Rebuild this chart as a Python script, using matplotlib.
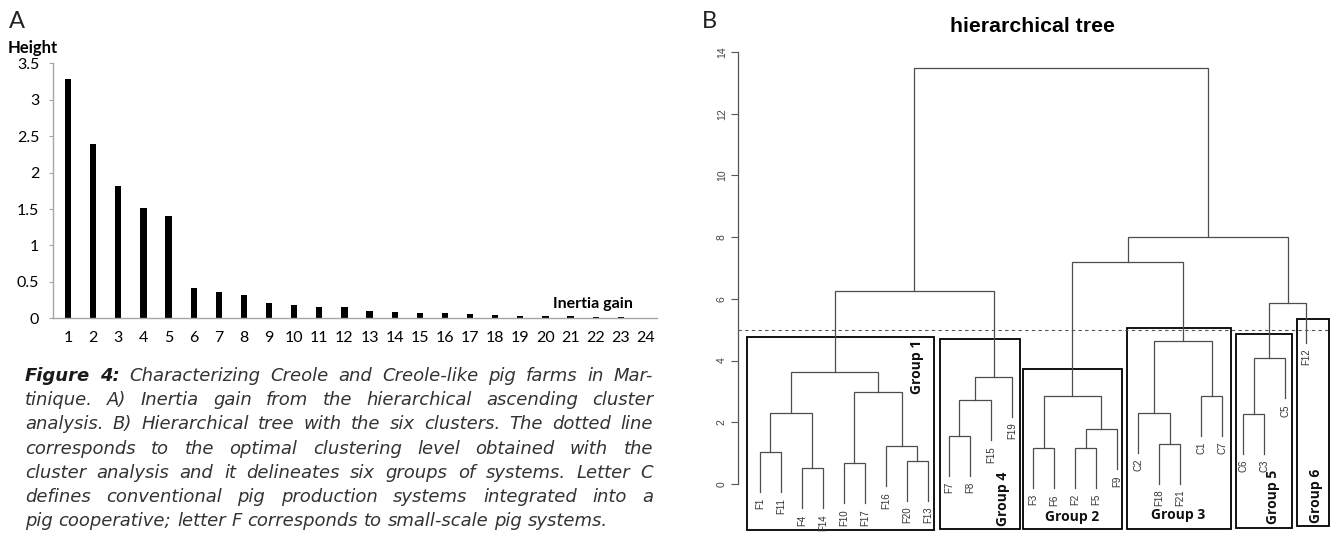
import matplotlib
matplotlib.use('Agg')
import matplotlib.pyplot as plt
from matplotlib.patches import Rectangle
from matplotlib.transforms import IdentityTransform

W, H = 1336, 544

# panel A : inertia gain
ranks = list(range(1, 25))
inertia_gain = [3.28, 2.39, 1.81, 1.52, 1.40, 0.41, 0.36, 0.32, 0.21, 0.18, 0.16, 0.15,
                0.10, 0.087, 0.078, 0.073, 0.055, 0.05, 0.037, 0.037, 0.027, 0.018, 0.014, 0.0]
yticks_a = [0, 0.5, 1, 1.5, 2, 2.5, 3, 3.5]
ytick_labels_a = ['0', '0.5', '1', '1.5', '2', '2.5', '3', '3.5']

# panel B : hierarchical tree (leaf order as drawn)
leaf_labels = ['F1', 'F11', 'F4', 'F14', 'F10', 'F17', 'F16', 'F20', 'F13',
               'F7', 'F8', 'F15', 'F19',
               'F3', 'F6', 'F2', 'F5', 'F9',
               'C2', 'F18', 'F21', 'C1', 'C7',
               'C6', 'C3', 'C5', 'F12']
# strings are leaves, ints point to an earlier merge
merge_pairs = [('F4', 'F14'), ('F10', 'F17'), ('F20', 'F13'), ('F1', 'F11'),
               ('F3', 'F6'), ('F2', 'F5'), ('F16', 2), ('F18', 'F21'),
               ('F7', 'F8'), (5, 'F9'), ('C6', 'C3'), (3, 0), ('C2', 7),
               (8, 'F15'), (4, 9), ('C1', 'C7'), (1, 6), (13, 'F19'),
               (11, 16), (10, 'C5'), (12, 15), (19, 'F12'), (18, 17),
               (14, 20), (23, 21), (22, 24)]
merge_heights = [0.51, 0.67, 0.76, 1.03, 1.16, 1.16, 1.23, 1.31, 1.55, 1.77,
                 2.27, 2.31, 2.31, 2.72, 2.86, 2.86, 2.97, 3.48, 3.63, 4.07,
                 4.64, 5.88, 6.25, 7.20, 8.00, 13.47]
cut_height = 5
yticks_b = [0, 2, 4, 6, 8, 10, 12, 14]

group_names = ['Group 1', 'Group 4', 'Group 2', 'Group 3', 'Group 5', 'Group 6']

caption_lines = [
    "Figure 4: Characterizing Creole and Creole-like pig farms in Mar-",
    "tinique. A) Inertia gain from the hierarchical ascending cluster",
    "analysis. B) Hierarchical tree with the six clusters. The dotted line",
    "corresponds to the optimal clustering level obtained with the",
    "cluster analysis and it delineates six groups of systems. Letter C",
    "defines conventional pig production systems integrated into a",
    "pig cooperative; letter F corresponds to small-scale pig systems.",
]


def fx(x):
    return x / W


def fy(y):
    return 1 - y / H


fig = plt.figure(figsize=(W / 100, H / 100), dpi=100)

# ---------------- panel A ----------------
axa = fig.add_axes([fx(53), fy(318.3), (657 - 53) / W, (318.3 - 63.3) / H])
axa.bar(ranks, inertia_gain, width=0.25, color='black')
axa.set_xlim(0.403, 24.44)
axa.set_ylim(0, 3.5)
axa.set_yticks(yticks_a)
axa.set_yticklabels(ytick_labels_a)
axa.set_xticks(ranks)
axa.set_xticklabels([str(r) for r in ranks])
for s in ['top', 'right']:
    axa.spines[s].set_visible(False)
for s in ['left', 'bottom']:
    axa.spines[s].set_color('#a6a6a6')
    axa.spines[s].set_linewidth(1)
axa.tick_params(axis='y', length=3, color='#a6a6a6', pad=7)
axa.tick_params(axis='x', length=0, pad=9)
for lab in axa.get_xticklabels() + axa.get_yticklabels():
    lab.set_family('Lato')
    lab.set_fontsize(11.5)

fig.text(fx(8), fy(53), 'Height', family='Lato', weight='bold', fontsize=12,
         ha='left', va='baseline')
fig.text(fx(633), fy(308), 'Inertia gain', family='Lato', weight='bold', fontsize=11.5,
         ha='right', va='baseline')
fig.text(fx(9), fy(28), 'A', family='Lato', fontsize=17, color='#222222',
         ha='left', va='baseline')
fig.text(fx(702), fy(28), 'B', family='Lato', fontsize=17, color='#222222',
         ha='left', va='baseline')

# ---------------- panel B ----------------
x0, x1 = -0.04, len(leaf_labels) + 1.04
px_per_h = 30.86
top_px, bot_px = 40, 540
axb = fig.add_axes([fx(738), fy(bot_px), (1328 - 738) / W, (bot_px - top_px) / H])
axb.set_xlim(x0, x1)
axb.set_ylim((484 - bot_px) / px_per_h, (484 - top_px) / px_per_h)

hang = 0.1 * (max(merge_heights) - min(merge_heights))
line_col = '#4d4d4d'
node_x = []


def child_pos(c, h):
    if isinstance(c, str):
        return leaf_labels.index(c) + 1, h - hang
    return node_x[c], merge_heights[c]


for (a, b), h in zip(merge_pairs, merge_heights):
    ax_, ay_ = child_pos(a, h)
    bx_, by_ = child_pos(b, h)
    axb.plot([ax_, ax_, bx_, bx_], [ay_, h, h, by_], color=line_col, lw=0.9,
             solid_joinstyle='miter')
    node_x.append((ax_ + bx_) / 2)
    for c, cx, cy in [(a, ax_, ay_), (b, bx_, by_)]:
        if isinstance(c, str):
            axb.annotate(c, (cx, cy), xytext=(0, -6), textcoords='offset pixels',
                         rotation=90, ha='center', va='top', fontsize=7,
                         family='Liberation Sans', color='#333333')

axb.axhline(cut_height, color='#555555', lw=0.8, ls=(0, (3, 3)))

for s in ['top', 'right', 'bottom']:
    axb.spines[s].set_visible(False)
axb.spines['left'].set_bounds(0, 14)
axb.spines['left'].set_color('#555555')
axb.spines['left'].set_linewidth(0.9)
axb.set_xticks([])
axb.set_yticks(yticks_b)
axb.set_yticklabels([str(t) for t in yticks_b], rotation=90, va='center',
                    family='Liberation Sans', fontsize=7.5, color='#444444')
axb.tick_params(axis='y', length=5, color='#555555', pad=3)

# group boxes (x0, x1, y0, y1 in tree units) and labels
group_boxes = [(0.40, 9.27, -1.49, 4.77), (9.59, 13.36, -1.47, 4.69),
               (13.51, 18.25, -1.47, 3.73), (18.46, 23.41, -1.45, 5.06),
               (23.65, 26.31, -1.42, 4.85), (26.58, 28.10, -1.35, 5.35)]
group_label_pos = [(8.47, 3.78, 90), (12.57, -0.49, 90), (15.87, -1.06, 0),
                   (20.92, -1.0, 0), (25.44, -0.41, 90), (27.47, -0.39, 90)]
for name, (bx0, bx1, by0, by1), (lx, ly, rot) in zip(group_names, group_boxes, group_label_pos):
    axb.add_patch(Rectangle((bx0, by0), bx1 - bx0, by1 - by0, fill=False,
                            edgecolor='black', lw=1.3, clip_on=False))
    axb.text(lx, ly, name, rotation=rot, ha='center', va='center', family='Open Sans',
             weight='bold', fontsize=10, color='#111111')

fig.text(fx(1032), fy(27), 'hierarchical tree', family='Liberation Sans', weight='bold',
         fontsize=15.3, ha='center', va='center')

# ---------------- caption (justified) ----------------
fig.canvas.draw()
renderer = fig.canvas.get_renderer()
cap_left, cap_right, last_right = 25, 653, 608
base0, step = 381, 24.2
cap_font = 'DejaVu Sans'


def word_width(w, size, bold=False):
    t = fig.text(0, 0, w, family=cap_font, style='italic',
                 weight='bold' if bold else 'normal', fontsize=size)
    wd = t.get_window_extent(renderer).width
    t.remove()
    return wd


# fit the size so the last (free) line has its width in the reference
probe = 10
last_w = word_width(caption_lines[-1], probe)
cap_size = probe * (last_right - cap_left) / last_w
space_w = word_width('a a', cap_size) - word_width('aa', cap_size)

for i, line in enumerate(caption_lines):
    words = line.split()
    items = []
    for j, w in enumerate(words):
        bold = i == 0 and j < 2
        t = fig.text(0, 0, w, family=cap_font, style='italic',
                     weight='bold' if bold else 'normal', fontsize=cap_size,
                     color='#1a1a1a' if bold else '#333333',
                     transform=IdentityTransform(), ha='left', va='baseline')
        items.append((t, t.get_window_extent(renderer).width))
    total = sum(wd for _, wd in items)
    if i < len(caption_lines) - 1:
        gap = (cap_right - cap_left - total) / (len(items) - 1)
    else:
        gap = space_w
    xpos = cap_left
    ybase = H - (base0 + i * step)
    for t, wd in items:
        t.set_position((xpos, ybase))
        xpos += wd + gap

fig.savefig('out.png', dpi=100)
